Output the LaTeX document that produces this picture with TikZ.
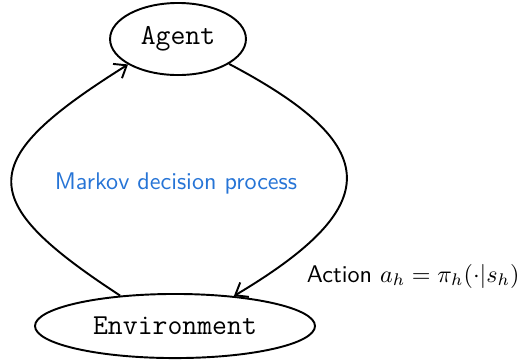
\documentclass[tikz,border=0pt]{standalone}
\usetikzlibrary{shapes.geometric,arrows.meta}
\definecolor{mdpblue}{RGB}{38,116,214}
\begin{document}
\begin{tikzpicture}[x=0.415pt,y=-0.415pt,line width=0.8pt,
  agentbox/.style={draw,ellipse,inner sep=0pt,font=\large\ttfamily},
  loop/.style={-{Straight Barb[length=4.5pt,width=7pt]}}]
  \useasboundingbox (0,0) rectangle (530,359);
  \node[agentbox,minimum width=56.4pt,minimum height=29.9pt] (agent) at (178,39) {Agent};
  \node[agentbox,minimum width=116.2pt,minimum height=26.6pt] (env) at (175,326) {Environment};
  \node[text=mdpblue,font=\sffamily] (mdp) at (176,183) {Markov decision process};
  \node[font=\sffamily,anchor=west,inner sep=0pt] (act) at (306,276) {Action $a_h=\pi_h(\cdot|s_h)$};
  % observation loop on the left, action loop on the right
  \draw[loop] (env.151) .. controls (-26,200) and (-26,161) .. (agent.207);
  \draw[loop] (agent.334) .. controls (385,146) and (385,206) .. (env.27);
\end{tikzpicture}
\end{document}
